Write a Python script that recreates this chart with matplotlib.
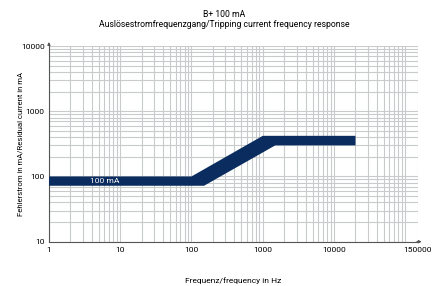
import numpy as np
import matplotlib.pyplot as plt
from matplotlib.ticker import FixedLocator, NullFormatter

# Data
upper_f = [1, 100, 1000, 20000]
upper_i = [100, 100, 420, 420]
lower_f = [1, 150, 1500, 20000]
lower_i = [72, 72, 300, 300]
x_ticks = [1, 10, 100, 1000, 10000, 150000]
x_labels = ["1", "10", "100", "1000", "10000", "150000"]
y_ticks = [10, 100, 1000, 10000]
y_labels = ["10", "100", "1000", "10000"]

navy = "#0b2c5e"
grid_col = "#c8cacc"
plt.rcParams["font.family"] = ["Roboto", "DejaVu Sans"]

fig = plt.figure(figsize=(4.33, 2.86), dpi=100)
ax = fig.add_axes([0.113, 0.155, 0.852, 0.684])
ax.set_xscale("log")
ax.set_yscale("log")
ax.set_xlim(1, 150000)
ax.set_ylim(10, 10000)

# grid
minor_x = [m * 10 ** k for k in range(5) for m in range(2, 10)] + [100000]
minor_x = [v for v in minor_x if v < 150000]
minor_y = [m * 10 ** k for k in range(1, 4) for m in range(2, 10)]
ax.xaxis.set_major_locator(FixedLocator(x_ticks))
ax.xaxis.set_minor_locator(FixedLocator(minor_x))
ax.yaxis.set_major_locator(FixedLocator(y_ticks))
ax.yaxis.set_minor_locator(FixedLocator(minor_y))
ax.set_xticklabels(x_labels)
ax.set_yticklabels(y_labels)
ax.xaxis.set_minor_formatter(NullFormatter())
ax.yaxis.set_minor_formatter(NullFormatter())
ax.grid(True, which="both", color=grid_col, lw=0.8)
ax.tick_params(which="both", length=0, labelsize=6, pad=4)
ax.tick_params(axis="y", pad=3)

for s in ["top", "right"]:
    ax.spines[s].set_visible(False)
for s in ["left", "bottom"]:
    ax.spines[s].set_color("#555555")
    ax.spines[s].set_linewidth(0.8)

# axis arrows
ax.annotate("", xy=(0, 1.035), xytext=(0, 0.99), xycoords="axes fraction",
            arrowprops=dict(arrowstyle="-|>", color="#555555", lw=0.8,
                            mutation_scale=4), annotation_clip=False)
ax.annotate("", xy=(1.018, 0), xytext=(0.99, 0), xycoords="axes fraction",
            arrowprops=dict(arrowstyle="-|>", color="#555555", lw=0.8,
                            mutation_scale=4), annotation_clip=False)

# band
band_f = upper_f + lower_f[::-1]
band_i = upper_i + lower_i[::-1]
ax.fill(band_f, band_i, color=navy, lw=0, zorder=3)
ax.text(6.0, 84, "100 mA", color="white", fontsize=6, ha="center",
        va="center", zorder=4)

fig.text(0.518, 0.948, "B+ 100 mA", ha="center", va="center", fontsize=6.2)
fig.text(0.518, 0.913, "Auslösestromfrequenzgang/Tripping current frequency response",
         ha="center", va="center", fontsize=6.2)
ax.set_xlabel("Frequenz/frequency in Hz", fontsize=6, labelpad=17)
ax.set_ylabel("Fehlerstrom in mA/Residual current in mA", fontsize=5.6)
ax.yaxis.set_label_coords(-0.07, 0.5)

fig.savefig("out.png", dpi=100)
